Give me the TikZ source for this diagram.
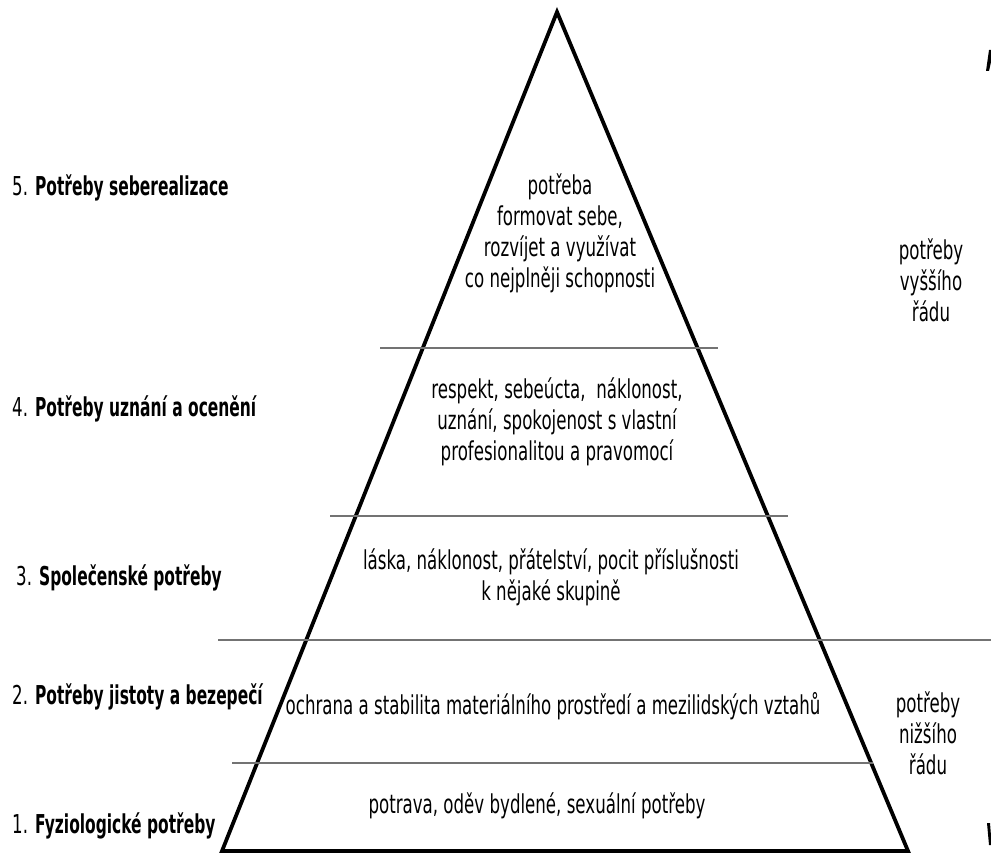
\documentclass[tikz,border=0pt]{standalone}
\usepackage{fontspec}
\setmainfont{DejaVu Sans}[FakeStretch=0.64,BoldFeatures={FakeStretch=0.595}]
\begin{document}
\begin{tikzpicture}[x=1pt,y=-1pt,
  txt/.style={font=\fontsize{26}{31}\selectfont, inner sep=0pt, align=center, text=black},
  lbl/.style={font=\fontsize{26}{31}\selectfont, inner sep=0pt, anchor=west, text=black},
  divider/.style={draw=black!55, line width=1.4pt},
  pyr/.style={draw=black, line width=3.8pt, line join=miter}]
\useasboundingbox (0,0) rectangle (991,866);
\fill[white] (0,0) rectangle (991,866);
% pyramid
\coordinate (apex) at (557,12);
\coordinate (bl) at (222,851);
\coordinate (br) at (908,851);
\draw[pyr] (bl) -- (apex) -- (br) -- cycle;
% dividers
\coordinate (d1a) at (380,348); \coordinate (d1b) at (718,348);
\coordinate (d2a) at (330,516); \coordinate (d2b) at (788,516);
\coordinate (d3a) at (218,640); \coordinate (d3b) at (991,640);
\coordinate (d4a) at (232,763); \coordinate (d4b) at (873,763);
\draw[divider] (d1a) -- (d1b);
\draw[divider] (d2a) -- (d2b);
\draw[divider] (d3a) -- (d3b);
\draw[divider] (d4a) -- (d4b);
% interior texts
\node[txt] (t5) at (560,233) {potřeba\\formovat sebe,\\rozvíjet a využívat\\co nejplněji schopnosti};
\node[txt] (t4) at (557,422) {respekt, sebeúcta,\ \ náklonost,\\uznání, spokojenost s vlastní\\profesionalitou a pravomocí};
\node[txt] (t3) at (551,577) {láska, náklonost, přátelství, pocit příslušnosti\\k nějaké skupině};
\node[txt] (t2) at (553,706) {ochrana a stabilita materiálního prostředí a mezilidských vztahů};
\node[txt] (t1) at (537,806) {potrava, oděv bydlené, sexuální potřeby};
% left labels
\node[lbl] (l5) at (12,188) {5. \textbf{Potřeby seberealizace}};
\node[lbl] (l4) at (12,409) {4. \textbf{Potřeby uznání a ocenění}};
\node[lbl] (l3) at (16,578) {3. \textbf{Společenské potřeby}};
\node[lbl] (l2) at (12,697) {2. \textbf{Potřeby jistoty a bezepečí}};
\node[lbl] (l1) at (12,826) {1. \textbf{Fyziologické potřeby}};
% right labels
\node[txt] (rh) at (931,280) {potřeby\\vyššího\\řádu};
\node[txt] (rl) at (928,733) {potřeby\\nižšího\\řádu};
% cut-off glyph fragments at right edge
\fill[black] (989,50) -- (991,50) -- (991,62) -- (989,71) -- (986,71) -- cycle;
\fill[black] (987,823) -- (990,823) -- (991,836) -- (991,845) -- (989,845) -- cycle;
\end{tikzpicture}
\end{document}
